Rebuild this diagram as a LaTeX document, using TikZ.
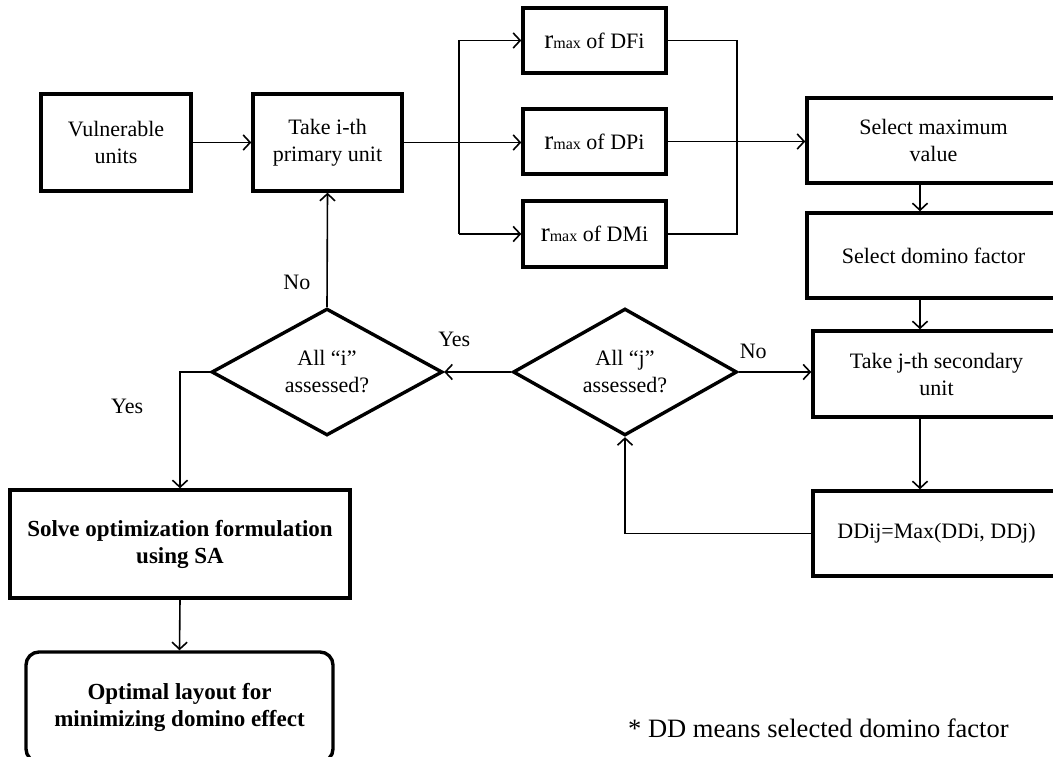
\documentclass[tikz,border=0pt]{standalone}
\usepackage{fontspec}
\setmainfont{Liberation Serif}
\usepackage{tikz}
\usetikzlibrary{positioning, shapes.geometric, arrows.meta, calc}
\newcommand{\rmaxof}{{\fontsize{27}{27}\selectfont r}{\fontsize{16}{16}\selectfont max} of }

\begin{document}
\begin{tikzpicture}[x=1pt,y=-1pt,
  font=\fontsize{22}{27}\selectfont,
  nd/.style={draw, line width=3.4pt, align=center, inner sep=2pt},
  dm/.style={draw, diamond, line width=3.4pt, align=center, inner sep=0pt},
  ar/.style={line width=1.6pt, -{Straight Barb[length=7pt,width=15pt,line width=1.6pt]}},
  ln/.style={line width=1.6pt},
  lbl/.style={inner sep=0pt}]
\useasboundingbox (0,0) rectangle (1053,757);
\clip (0,0) rectangle (1053,757);

\node[nd, minimum width=150pt, minimum height=97pt](vu) at (116,142.5){Vulnerable\\units};
\node[nd, minimum width=149pt, minimum height=97pt](tp) at (327.5,142.5){Take i-th\\primary unit};
\node[nd, minimum width=143pt, minimum height=65pt](dfi) at (594.5,40.5){\rmaxof DFi};
\node[nd, minimum width=143pt, minimum height=65pt](dpi) at (594.5,141.5){\rmaxof DPi};
\node[nd, minimum width=143pt, minimum height=66pt](dmi) at (594.5,234){\rmaxof DMi};
\node[nd, minimum width=253pt, minimum height=85pt](sm) at (933.5,140.5){Select maximum\\value};
\node[nd, minimum width=253pt, minimum height=85pt](sd) at (933.5,255.5){Select domino factor};
\node[nd, minimum width=247pt, minimum height=86pt](tj) at (936.5,374){Take j-th secondary\\unit};
\node[nd, minimum width=247pt, minimum height=85pt](dd) at (936.5,533.5){DDij=Max(DDi, DDj)};
\node[dm, minimum width=224pt, minimum height=116pt](dj) at (625,372){All ``j''\\assessed?};
\node[dm, minimum width=231pt, minimum height=118pt](di) at (327,372){All ``i''\\assessed?};
\node[nd, minimum width=340pt, minimum height=108pt, font=\fontsize{23}{27}\selectfont\bfseries](so) at (180,544){Solve optimization formulation\\using SA};
\node[nd, rounded corners=13pt, minimum width=307pt, minimum height=110pt, font=\fontsize{23}{27}\selectfont\bfseries](ol) at (179.5,707){Optimal layout for\\minimizing domino effect};
\node[lbl, anchor=base west, font=\fontsize{26.5}{30}\selectfont](note) at (628,737){* DD means selected domino factor};

\coordinate (br) at (459,142);
\coordinate (mg) at (737,142);
\coordinate (col) at (920,0);

\draw[ar](vu)--(tp);
\draw[ar](tp.east)--(tp.east -| dpi.west);
\draw[ln](dfi.west -| br)--(dmi.west -| br);
\draw[ar](dfi.west -| br)--(dfi.west);
\draw[ar](dmi.west -| br)--(dmi.west);
\draw[ln](dfi.east)--(dfi.east -| mg)--(dmi.east -| mg)--(dmi.east);
\draw[ar](dpi.east)--(dpi.east -| sm.west);
\draw[ar](sm.south -| col)--(sd.north -| col);
\draw[ar](sd.south -| col)--(tj.north -| col);
\draw[ar](tj.south -| col)--(dd.north -| col);
\draw[ar](dj.east)--node[lbl, pos=0.2, above=12pt]{No}(dj.east -| tj.west);
\draw[ar](dd.west)--(dd.west -| dj.south)--(dj.south);
\draw[ar](dj.west)--node[lbl, pos=0.85, above=24pt]{Yes}(di.east);
\draw[ar](di.north)--node[lbl, pos=0.21, left=16pt]{No}(tp.south);
\draw[ar](di.west)-|node[lbl, pos=0.65, left=36pt]{Yes}(so.north);
\draw[ar](so.south)--(ol.north);

\end{tikzpicture}
\end{document}
